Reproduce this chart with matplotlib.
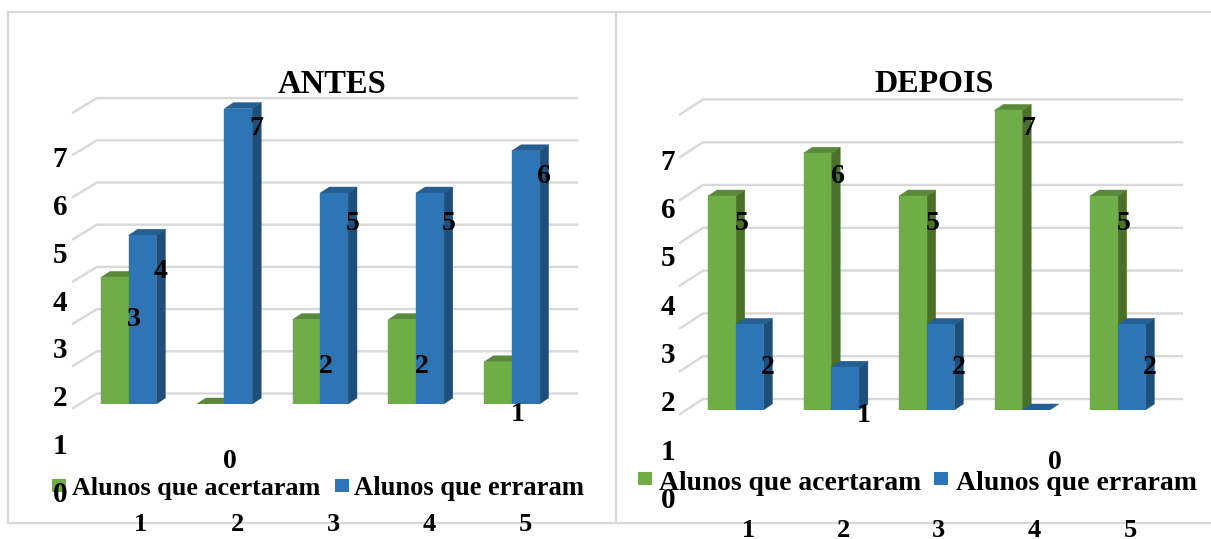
"""Grafico ANTES / DEPOIS - alunos que acertaram e erraram, barras com efeito 3D"""
import matplotlib
matplotlib.use('Agg')
import matplotlib.pyplot as plt
from matplotlib.patches import Polygon, Rectangle

plt.rcParams['font.family'] = ['Liberation Serif', 'DejaVu Serif']
plt.rcParams['font.weight'] = 'bold'

W, H = 1211, 539

questoes = [1, 2, 3, 4, 5]
antes_acertaram = [3, 0, 2, 2, 1]
antes_erraram = [4, 7, 5, 5, 6]
depois_acertaram = [5, 6, 5, 7, 5]
depois_erraram = [2, 1, 2, 0, 2]
eixo_y = [0, 1, 2, 3, 4, 5, 6, 7]

VERDE = ('#70AD47', '#5A8A39', '#4A7029')
AZUL = ('#2E75B6', '#255E92', '#1F4E79')
GRADE = '#D9D9D9'

# eixo de fundo em pixels, para molduras e linhas de grade
fig = plt.figure(figsize=(W / 100, H / 100), dpi=100, facecolor='white')
bg = fig.add_axes([0, 0, 1, 1], zorder=1)
bg.set_xlim(0, W)
bg.set_ylim(H, 0)
bg.axis('off')

# textos por cima das barras
fg = fig.add_axes([0, 0, 1, 1], zorder=3)
fg.set_xlim(0, W)
fg.set_ylim(H, 0)
fg.axis('off')

# molduras
bg.plot([8, 8, 616, 616], [12, 522.5, 522.5, 12], color=GRADE, lw=1.6)
bg.plot([8, W], [12, 12], color=GRADE, lw=1.6)
bg.plot([616, W], [522.5, 522.5], color=GRADE, lw=1.6)


def numero(x, y, s, fs):
    # y e o centro do algarismo; a linha de base desce meia altura de digito
    fg.text(x, y + 0.338 * fs * 100 / 72, str(s), fontsize=fs, ha='center', va='baseline', color='black')


def painel(titulo, titulo_x, acertaram, erraram, cfg):
    x0, passo, larg, base, unid = cfg['x0'], cfg['passo'], cfg['larg'], cfg['base'], cfg['unid']

    # parede do fundo e linhas de grade
    fx, fy = cfg['frente']
    tx, ty = cfg['fundo']
    for v in eixo_y:
        yb = ty - v * unid
        yf = fy - v * unid
        bg.plot([fx, tx, cfg['grade_fim']], [yf, yb, yb], color=GRADE, lw=1.7, zorder=1)

    # eixo das barras: x em questoes, y em alunos, escala fixada em pixels
    topo = 60.0
    ax = fig.add_axes([0, 1 - base / H, 1, (base - topo) / H], zorder=2)
    ax.patch.set_alpha(0)
    ax.axis('off')
    ax.set_ylim(0, (base - topo) / unid)
    # a questao q fica na divisa entre a barra verde e a azul
    xq = lambda px: 1 + (px - x0 - larg) / passo
    ax.set_xlim(xq(0), xq(W))
    w = larg / passo
    dx, dy = 9 / passo, 6 / unid

    for i, q in enumerate(questoes):
        for serie, cores, lado in ((acertaram, VERDE, -1), (erraram, AZUL, 0)):
            v = serie[i]
            esq = q + lado * w
            if v > 0:
                ax.add_patch(Polygon([(esq + w, 0), (esq + w + dx, dy), (esq + w + dx, v + dy), (esq + w, v)],
                                     facecolor=cores[2], edgecolor=cores[2], lw=0.3, zorder=3 + lado))
            ax.add_patch(Polygon([(esq, v), (esq + dx, v + dy), (esq + w + dx, v + dy), (esq + w, v)],
                                 facecolor=cores[1], edgecolor=cores[1], lw=0.3, zorder=3 + lado))
            ax.bar(esq, v, width=w, align='edge', color=cores[0], edgecolor=cores[0], lw=0.3, zorder=3.5 + lado)

    # rotulos de dados: escala propria, mais larga que a das barras
    for i, q in enumerate(questoes):
        xg = x0 + (q - 1) * passo
        for v, desl in ((acertaram[i], cfg['rot_a']), (erraram[i], cfg['rot_b'])):
            numero(xg + desl, cfg['rot_y0'] - v * cfg['rot_unid'], v, 20)

    fg.text(titulo_x, cfg['titulo_y'], titulo, fontsize=cfg['titulo_fs'], ha='center', va='baseline', color='black')

    # rotulos do eixo y
    for v in eixo_y:
        numero(cfg['ytick_x'], cfg['ytick_y0'] - v * cfg['ytick_unid'], v, 21)
    # rotulos do eixo x
    for q, px in zip(questoes, cfg['xtick_x']):
        numero(px, cfg['xtick_y'], q, 19)

    # legenda, cortada embaixo como a caixa de texto do grafico
    ly, corte = cfg['leg_y'], cfg['leg_corte']
    clip = Rectangle((0, ly - 30), W, corte - (ly - 30), transform=fg.transData)
    for sx, tx_leg, nome, fs, cor in cfg['legenda']:
        bg.add_patch(Rectangle((sx, cfg['quad_y']), 14, 12.5, facecolor=cor, edgecolor='none', zorder=5))
        t = fg.text(tx_leg, ly, nome, fontsize=fs, ha='left', va='baseline', color='black')
        t.set_clip_path(clip)


painel('ANTES', 332, antes_acertaram, antes_erraram, dict(
    x0=101, passo=95.8, larg=27.7, base=404, unid=42.2,
    frente=(73, 408), fundo=(97, 393.5), grade_fim=577,
    rot_a=33, rot_b=60, rot_y0=459, rot_unid=47.6, titulo_y=93, titulo_fs=23.5,
    ytick_x=60, ytick_y0=492, ytick_unid=47.8,
    xtick_x=[141, 237, 333, 429, 525], xtick_y=522.5,
    leg_y=495, leg_corte=498,
    quad_y=479,
    legenda=[(52, 72, 'Alunos que acertaram', 18.8, VERDE[0]), (335, 354.5, 'Alunos que erraram', 19.1, AZUL[0])]))

painel('DEPOIS', 934, depois_acertaram, depois_erraram, dict(
    x0=708, passo=95.5, larg=27.7, base=410, unid=42.8,
    frente=(680, 414), fundo=(703, 399), grade_fim=1182,
    rot_a=34, rot_b=60, rot_y0=460, rot_unid=47.8, titulo_y=92, titulo_fs=23,
    ytick_x=668, ytick_y0=498, ytick_unid=48.3,
    xtick_x=[749, 844, 938, 1034, 1130], xtick_y=528,
    leg_y=490, leg_corte=493,
    quad_y=472,
    legenda=[(638, 659, 'Alunos que acertaram', 19.9, VERDE[0]), (934, 955.5, 'Alunos que erraram', 20, AZUL[0])]))

fig.savefig('out.png', dpi=100, facecolor='white')
plt.close(fig)
